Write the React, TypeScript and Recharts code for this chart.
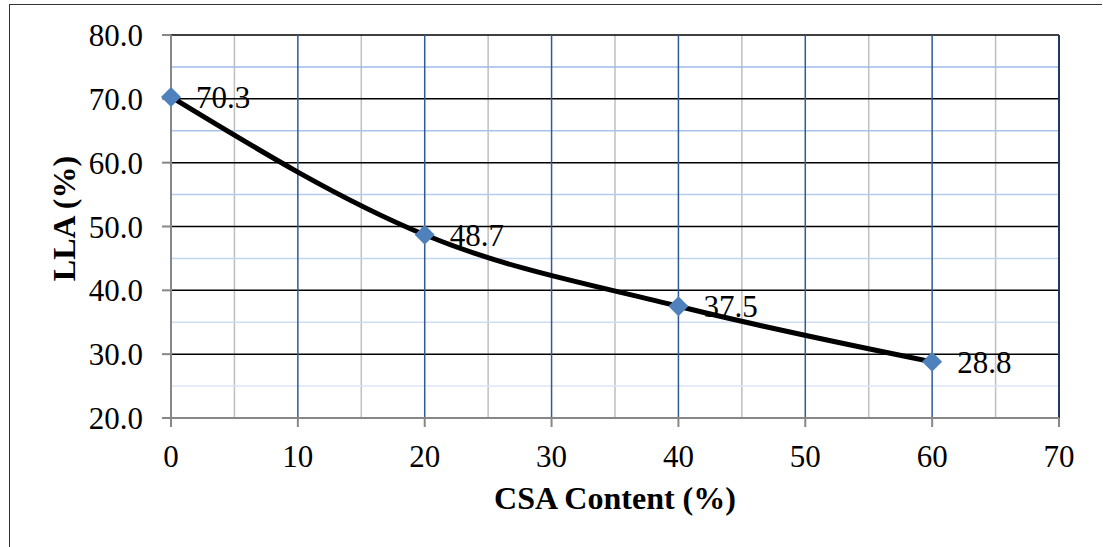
import React from "react";
import {
  LineChart,
  Line,
  XAxis,
  YAxis,
  ReferenceLine,
  LabelList,
  Label,
} from "recharts";

// CSA content (%) vs LLA (%)
const csaContent = [0, 20, 40, 60];
const llaValues = [70.3, 48.7, 37.5, 28.8];

const xTicks = [0, 10, 20, 30, 40, 50, 60, 70];
const yTicks = [20, 30, 40, 50, 60, 70, 80];
const xMinorTicks = [5, 15, 25, 35, 45, 55, 65];
const yMinorTicks = [25, 35, 45, 55, 65, 75];

const data = csaContent.map((x, i) => ({ x, lla: llaValues[i] }));

const FONT = '"Liberation Serif", "Times New Roman", serif';
const AXIS_GREY = "#878787";

// minor horizontal lines fade from a medium blue at the top to a pale blue at the bottom
function minorBlue(v: number): string {
  const t = (75 - v) / 50;
  const from = [157, 187, 232];
  const to = [220, 229, 245];
  const c = from.map((f, k) => Math.round(f + (to[k] - f) * t));
  return `rgb(${c[0]},${c[1]},${c[2]})`;
}

function Diamond(props: any) {
  const { cx, cy, index } = props;
  if (cx == null || cy == null) return null;
  const r = 10;
  return (
    <path
      key={`d-${index}`}
      d={`M${cx},${cy - r}L${cx + r},${cy}L${cx},${cy + r}L${cx - r},${cy}Z`}
      fill="#4F81BD"
    />
  );
}

function YTitle(props: any) {
  const vb = props.viewBox || {};
  const x = vb.x + 13;
  const y = vb.y + vb.height / 2 - 8;
  return (
    <text
      x={x}
      y={y}
      transform={`rotate(-90, ${x}, ${y})`}
      textAnchor="middle"
      dominantBaseline="central"
      fill="#000"
      fontSize={32}
      fontWeight="bold"
      fontFamily={FONT}
    >
      LLA (%)
    </text>
  );
}

export default function App() {
  return (
    <div
      style={{
        position: "absolute",
        left: 0,
        top: 0,
        width: 1103,
        height: 547,
        background: "#fff",
        overflow: "hidden",
      }}
    >
      <div
        style={{
          position: "absolute",
          left: 9,
          top: 4,
          width: 1092,
          height: 560,
          borderTop: "1.5px solid #333",
          borderLeft: "1.5px solid #333",
        }}
      />
      <LineChart
        width={1103}
        height={547}
        data={data}
        margin={{ top: 35, right: 44, bottom: 69, left: 51 }}
        style={{ position: "absolute", left: 0, top: 0, fontFamily: FONT }}
      >
        {xMinorTicks.map((v) => (
          <ReferenceLine key={`xm${v}`} x={v} stroke="#BFBFBF" strokeWidth={1.5} />
        ))}
        {yMinorTicks.map((v) => (
          <ReferenceLine key={`ym${v}`} y={v} stroke={minorBlue(v)} strokeWidth={1.5} />
        ))}
        {yTicks
          .filter((v) => v > 20)
          .map((v) => (
            <ReferenceLine key={`yM${v}`} y={v} stroke="#000" strokeWidth={1.5} />
          ))}
        {xTicks
          .filter((v) => v > 0)
          .map((v) => (
            <ReferenceLine
              key={`xM${v}`}
              x={v}
              stroke={v === 70 ? "#1F3864" : "#2F5A93"}
              strokeWidth={v === 70 ? 2 : 1.5}
            />
          ))}
        <XAxis
          dataKey="x"
          type="number"
          domain={[0, 70]}
          ticks={xTicks}
          interval={0}
          height={60}
          axisLine={{ stroke: AXIS_GREY, strokeWidth: 2 }}
          tickLine={{ stroke: AXIS_GREY, strokeWidth: 2 }}
          tickSize={9}
          tickMargin={18}
          tick={{ fill: "#000", fontSize: 31, fontFamily: FONT }}
        >
          <Label
            value="CSA Content (%)"
            position="bottom"
            offset={8}
            fill="#000"
            fontSize={32}
            fontWeight="bold"
            fontFamily={FONT}
          />
        </XAxis>
        <YAxis
          type="number"
          domain={[20, 80]}
          ticks={yTicks}
          interval={0}
          width={120}
          axisLine={{ stroke: AXIS_GREY, strokeWidth: 2 }}
          tickLine={{ stroke: AXIS_GREY, strokeWidth: 2 }}
          tickSize={9}
          tickMargin={19}
          tickFormatter={(v: number) => v.toFixed(1)}
          tick={{ fill: "#000", fontSize: 31, fontFamily: FONT }}
        >
          <Label content={YTitle} />
        </YAxis>
        <Line
          type="monotone"
          dataKey="lla"
          stroke="#000"
          strokeWidth={5}
          dot={Diamond}
          activeDot={false}
          isAnimationActive={false}
        >
          <LabelList
            dataKey="lla"
            position="right"
            offset={25}
            fill="#000"
            fontSize={31}
            fontFamily={FONT}
            formatter={(v: any) => Number(v).toFixed(1)}
          />
        </Line>
      </LineChart>
    </div>
  );
}
